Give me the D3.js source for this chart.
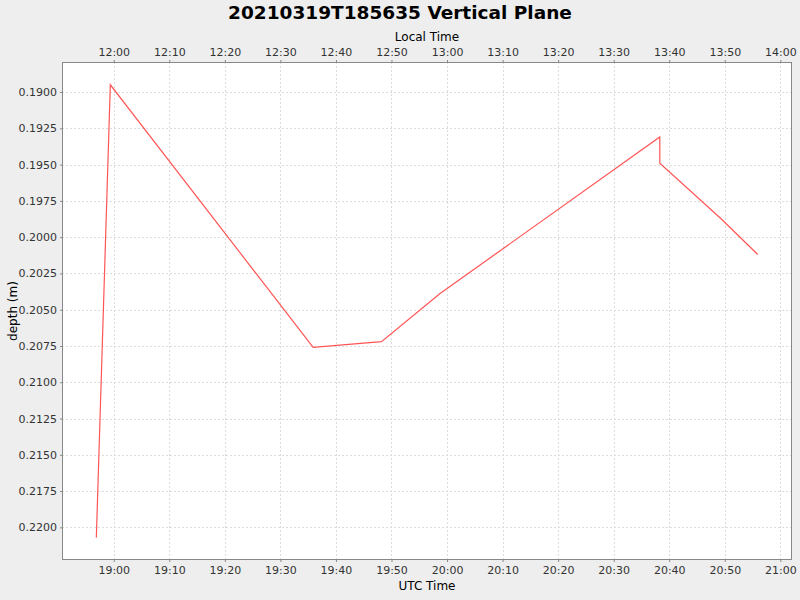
<!DOCTYPE html>
<html>
<head>
<meta charset="utf-8">
<script src="https://cdn.jsdelivr.net/npm/d3@7"></script>
<style>
  html, body { margin: 0; padding: 0; background: #eeeeee; }
  svg { display: block; font-family: "DejaVu Sans", sans-serif; }
</style>
</head>
<body>
<svg id="chart" width="800" height="600"></svg>
<script>
// ---- data ----
const chartTitle = "20210319T185635 Vertical Plane";
const utcTimes = ["18:56:52", "18:59:23", "19:35:54", "19:48:12", "19:58:41", "20:38:18", "20:38:18", "20:49:14", "20:55:56"];
const depths   = [0.2207, 0.1895, 0.2076, 0.2072, 0.2039, 0.1931, 0.1949, 0.1987, 0.2012];
const depthTicks = [0.1900, 0.1925, 0.1950, 0.1975, 0.2000, 0.2025, 0.2050, 0.2075, 0.2100, 0.2125, 0.2150, 0.2175, 0.2200];
const timeDomainUtc = ["18:50:41", "21:02:06"];
const depthDomain = [0.18793, 0.22225];
const localOffsetHours = -7;

// ---- helpers ----
function toDate(s) {
  const [h, m, sec] = s.split(":").map(Number);
  return new Date(Date.UTC(2021, 2, 19, h, m, sec));
}
const data = utcTimes.map((t, i) => ({ t: toDate(t), d: depths[i] }));

const svg = d3.select("#chart");
const margin = { left: 62, right: 8, top: 62, bottom: 40 };
const W = 800, H = 600;
const x0 = margin.left, x1 = W - margin.right, y0 = margin.top, y1 = H - margin.bottom;

const x = d3.scaleUtc().domain(timeDomainUtc.map(toDate)).range([x0, x1]);
const xLocal = d3.scaleUtc()
  .domain(timeDomainUtc.map(s => new Date(toDate(s).getTime() + localOffsetHours * 3600e3)))
  .range([x0, x1]);
const y = d3.scaleLinear().domain(depthDomain).range([y0, y1]);

// plot background
svg.append("rect").attr("x", x0).attr("y", y0).attr("width", x1 - x0).attr("height", y1 - y0)
  .attr("fill", "#ffffff");

// grid
const tickEvery = d3.utcMinute.every(10);
const xTicks = x.ticks(tickEvery);
const grid = svg.append("g").attr("stroke", "#dcdcdc").attr("stroke-dasharray", "2,2").attr("stroke-width", 1);
xTicks.forEach(t => {
  const px = Math.round(x(t)) + 0.5;
  grid.append("line").attr("x1", px).attr("x2", px).attr("y1", y0).attr("y2", y1);
});
depthTicks.forEach(v => {
  const py = Math.round(y(v)) + 0.5;
  grid.append("line").attr("x1", x0).attr("x2", x1).attr("y1", py).attr("y2", py);
});

// axes
const fmt = d3.utcFormat("%H:%M");
const bottomAxis = svg.append("g").attr("transform", `translate(0,${y1})`)
  .call(d3.axisBottom(x).ticks(tickEvery).tickFormat(fmt).tickSize(2).tickSizeOuter(0).tickPadding(4));
const topAxis = svg.append("g").attr("transform", `translate(0,${y0})`)
  .call(d3.axisTop(xLocal).ticks(tickEvery).tickFormat(fmt).tickSize(2).tickSizeOuter(0).tickPadding(4));
const leftAxis = svg.append("g").attr("transform", `translate(${x0},0)`)
  .call(d3.axisLeft(y).tickValues(depthTicks).tickFormat(d3.format(".4f")).tickSize(2).tickSizeOuter(0).tickPadding(3));

[bottomAxis, topAxis, leftAxis].forEach(g => {
  g.select(".domain").remove();
  g.selectAll(".tick line").attr("stroke", "#888888");
  g.selectAll(".tick text").attr("fill", "#333333").style("font-size", "11px")
    .style("font-family", "'DejaVu Sans', sans-serif");
});

// plot outline
svg.append("rect").attr("x", x0 + 0.5).attr("y", y0 + 0.5).attr("width", x1 - x0 - 1).attr("height", y1 - y0 - 1)
  .attr("fill", "none").attr("stroke", "#888888").attr("stroke-width", 1);

// line
const line = d3.line().x(p => x(p.t)).y(p => y(p.d));
svg.append("path").datum(data).attr("d", line)
  .attr("fill", "none").attr("stroke", "#ff5555").attr("stroke-width", 1.2);

// labels
svg.append("text").attr("x", 400).attr("y", 18.5).attr("text-anchor", "middle")
  .style("font-size", "18.5px").style("font-weight", "bold").attr("fill", "#000")
  .text(chartTitle);
svg.append("text").attr("x", (x0 + x1) / 2).attr("y", 41).attr("text-anchor", "middle")
  .style("font-size", "12px").attr("fill", "#000").text("Local Time");
svg.append("text").attr("x", (x0 + x1) / 2).attr("y", 590).attr("text-anchor", "middle")
  .style("font-size", "12px").attr("fill", "#000").text("UTC Time");
svg.append("text").attr("transform", `translate(16.5,${(y0 + y1) / 2}) rotate(-90)`)
  .attr("text-anchor", "middle").style("font-size", "12px").attr("fill", "#000").text("depth (m)");
</script>
</body>
</html>
